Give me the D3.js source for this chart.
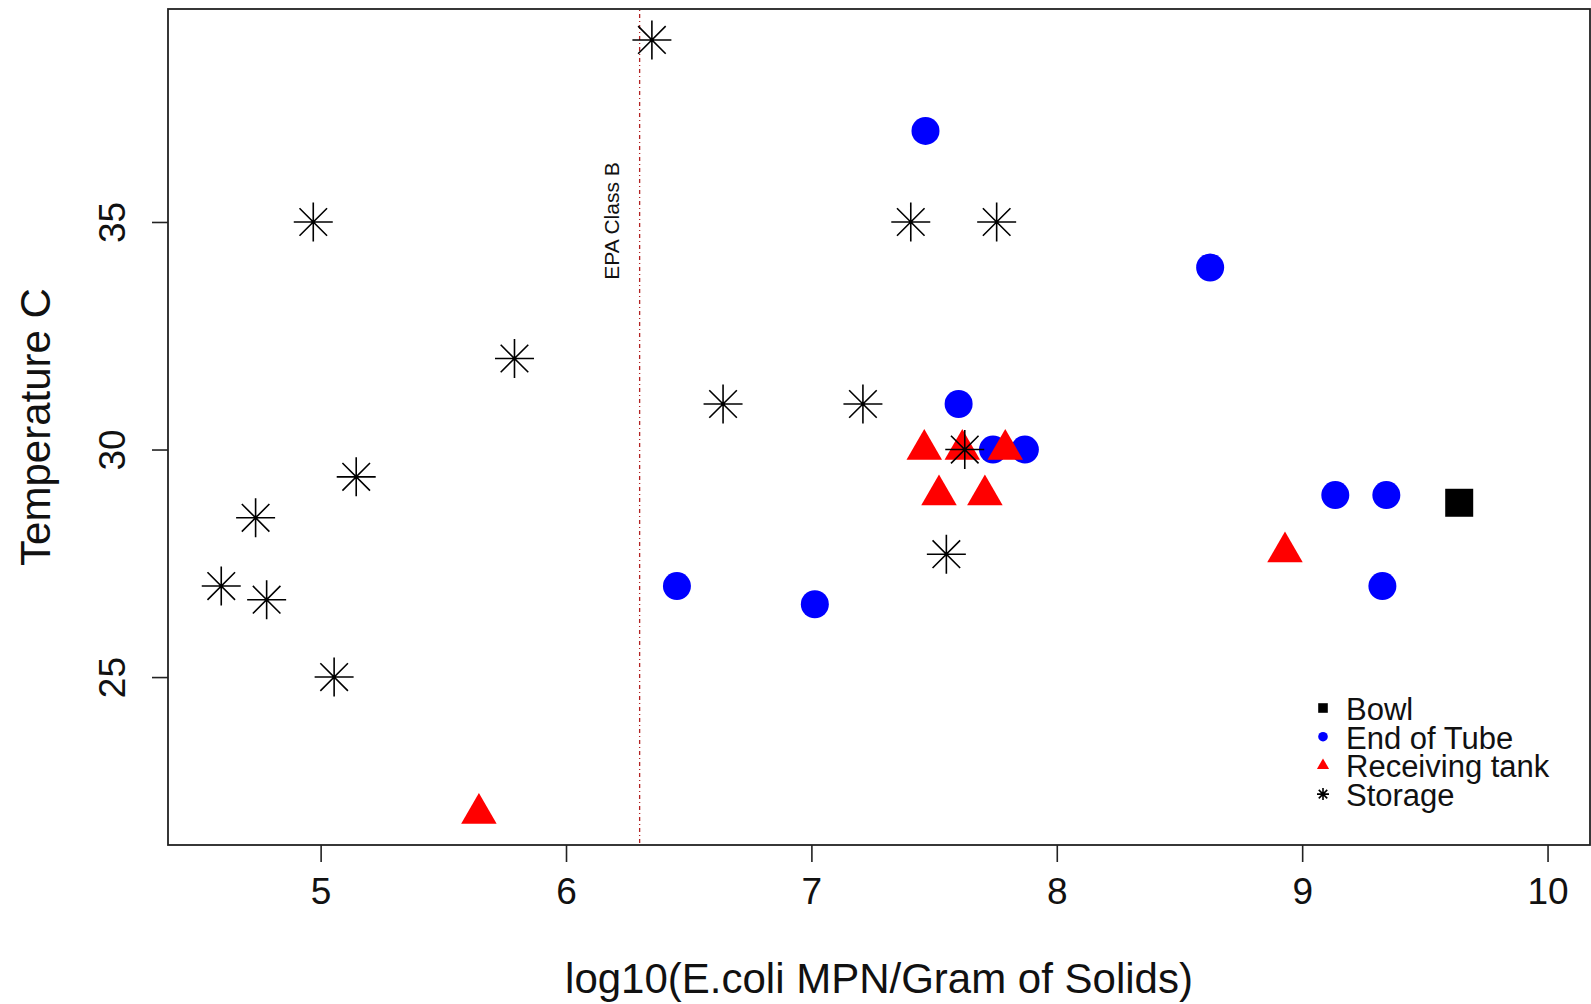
<!DOCTYPE html>
<html>
<head>
<meta charset="utf-8">
<script src="https://cdn.jsdelivr.net/npm/d3@7"></script>
<style>
  body { margin: 0; background: #fff; }
  text { font-family: "Liberation Sans", Arial, sans-serif; fill: #111; }
</style>
</head>
<body>
<svg></svg>
<script>
// data
var bowlX = [9.64];
var bowlY = [28.83];
var tubeX = [7.465, 8.625, 7.6, 7.74, 7.87, 9.135, 9.343, 9.327, 6.452, 7.014];
var tubeY = [37.0, 34.0, 31.0, 30.0, 30.0, 29.0, 29.0, 27.0, 27.0, 26.6];
var tankX = [7.46, 7.615, 7.79, 7.52, 7.707, 8.93, 5.645];
var tankY = [30.0, 30.0, 30.0, 29.0, 29.0, 27.75, 22.0];
var storageX = [6.35, 4.97, 5.79, 5.145, 4.735, 4.595, 4.78, 5.055, 6.64, 7.21, 7.405, 7.755, 7.625, 7.55];
var storageY = [39.0, 35.0, 32.0, 29.4, 28.5, 27.0, 26.7, 25.0, 31.0, 31.0, 35.0, 35.0, 30.0, 27.7];

var xTicks = [5, 6, 7, 8, 9, 10];
var yTicks = [25, 30, 35];
var epaLimit = 6.3;
var legendLabels = ["Bowl", "End of Tube", "Receiving tank", "Storage"];
var legendShapes = ["square", "circle", "triangle", "asterisk"];
var legendColors = ["black", "blue", "red", "black"];

var svgWidth = 1591, svgHeight = 1004;
var plotLeft = 168, plotRight = 1590, plotTop = 9, plotBottom = 845;

var svg = d3.select("svg")
    .attr("width", svgWidth)
    .attr("height", svgHeight);

var xScale = d3.scaleLinear()
    .domain([4.378, 10.173])
    .range([plotLeft, plotRight]);

var yScale = d3.scaleLinear()
    .domain([21.31, 39.68])
    .range([plotBottom, plotTop]);

// marker paths, R style (pch 15, 19, 17, 8)
function shapePath(shape, s) {
    if (shape == "square") {
        return "M" + (-s) + "," + (-s) + "H" + s + "V" + s + "H" + (-s) + "Z";
    } else if (shape == "triangle") {
        var xc = s * Math.sqrt(3) / 2;
        return "M0," + (-s) + "L" + xc + "," + (s / 2) + "L" + (-xc) + "," + (s / 2) + "Z";
    } else if (shape == "asterisk") {
        var d = s / Math.SQRT2;
        return "M" + (-s) + ",0H" + s + "M0," + (-s) + "V" + s +
            "M" + (-d) + "," + (-d) + "L" + d + "," + d +
            "M" + (-d) + "," + d + "L" + d + "," + (-d);
    }
    return d3.arc()({innerRadius: 0, outerRadius: s, startAngle: 0, endAngle: 2 * Math.PI});
}

function drawSeries(xs, ys, shape, color, size) {
    svg.append("g").selectAll("path")
        .data(xs)
        .enter()
        .append("path")
        .attr("transform", function(d, i) {
            return "translate(" + xScale(d) + "," + yScale(ys[i]) + ")";
        })
        .attr("d", shapePath(shape, size))
        .attr("fill", shape == "asterisk" ? "none" : color)
        .attr("stroke", shape == "asterisk" ? color : "none")
        .attr("stroke-width", 1.6);
}

// EPA class B line
svg.append("line")
    .attr("x1", xScale(epaLimit)).attr("x2", xScale(epaLimit))
    .attr("y1", plotTop + 1).attr("y2", plotBottom - 1)
    .attr("stroke", "#b22222")
    .attr("stroke-width", 1.3)
    .attr("stroke-dasharray", "1,3,4,3");

svg.append("text")
    .attr("transform", "translate(" + (xScale(epaLimit) - 21) + ",221) rotate(-90)")
    .attr("text-anchor", "middle")
    .style("font-size", "21px")
    .text("EPA Class B");

drawSeries(bowlX, bowlY, "square", "black", 14);
drawSeries(tubeX, tubeY, "circle", "blue", 14);
drawSeries(tankX, tankY, "triangle", "red", 20.5);
drawSeries(storageX, storageY, "asterisk", "black", 19.5);

// frame
svg.append("rect")
    .attr("x", plotLeft).attr("y", plotTop)
    .attr("width", plotRight - plotLeft).attr("height", plotBottom - plotTop)
    .attr("fill", "none")
    .attr("stroke", "#222")
    .attr("stroke-width", 1.8);

// x axis
var xAxis = d3.axisBottom(xScale).tickValues(xTicks).tickFormat(d3.format("d"))
    .tickSize(17).tickPadding(16);
var gx = svg.append("g")
    .attr("transform", "translate(0," + plotBottom + ")")
    .call(xAxis);
gx.select(".domain").remove();
gx.selectAll("line").attr("stroke", "#222").attr("stroke-width", 1.6);
gx.selectAll("text")
    .style("font-size", "37px")
    .attr("fill", "#111")
    .attr("font-family", null);

// y axis
var yAxis = d3.axisLeft(yScale).tickValues(yTicks).tickFormat(d3.format("d")).tickSize(16);
var gy = svg.append("g")
    .attr("transform", "translate(" + plotLeft + ",0)")
    .call(yAxis);
gy.select(".domain").remove();
gy.selectAll("line").attr("stroke", "#222").attr("stroke-width", 1.6);
gy.selectAll("text")
    .attr("x", null).attr("dy", null)
    .attr("text-anchor", "middle")
    .attr("transform", "translate(-43,0) rotate(-90)")
    .style("font-size", "37px")
    .attr("fill", "#111")
    .attr("font-family", null);

// axis titles
svg.append("text")
    .attr("x", (plotLeft + plotRight) / 2)
    .attr("y", 993)
    .attr("text-anchor", "middle")
    .style("font-size", "42px")
    .text("log10(E.coli MPN/Gram of Solids)");

svg.append("text")
    .attr("transform", "translate(50," + (plotTop + plotBottom) / 2 + ") rotate(-90)")
    .attr("text-anchor", "middle")
    .style("font-size", "42px")
    .text("Temperature C");

// legend
var legend = svg.append("g").attr("transform", "translate(1323,720)");
var rows = legend.selectAll("g")
    .data(legendLabels)
    .enter()
    .append("g")
    .attr("transform", function(d, i) {
        return "translate(0," + (i * 28.7) + ")";
    });
rows.append("path")
    .attr("transform", "translate(0,-12)")
    .attr("d", function(d, i) {
        var s = legendShapes[i];
        return shapePath(s, s == "triangle" ? 7 : s == "asterisk" ? 6 : 4.8);
    })
    .attr("fill", function(d, i) { return legendShapes[i] == "asterisk" ? "none" : legendColors[i]; })
    .attr("stroke", function(d, i) { return legendShapes[i] == "asterisk" ? legendColors[i] : "none"; })
    .attr("stroke-width", 1.6);
rows.append("text")
    .attr("x", 23)
    .style("font-size", "31px")
    .attr("fill", "#222")
    .text(function(d) { return d; });
</script>
</body>
</html>
